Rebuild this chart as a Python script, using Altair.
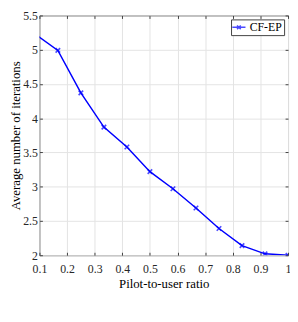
import altair as alt
import pandas as pd

ratio = [1/12, 2/12, 3/12, 4/12, 5/12, 6/12, 7/12, 8/12, 9/12, 10/12, 11/12, 12/12]
iters = [5.23, 4.99, 4.37, 3.87, 3.58, 3.22, 2.97, 2.69, 2.39, 2.14, 2.02, 2.00]
series = ["CF-EP"] * len(ratio)
x_ticks = [0.1, 0.2, 0.3, 0.4, 0.5, 0.6, 0.7, 0.8, 0.9, 1.0]
y_ticks = [2, 2.5, 3, 3.5, 4, 4.5, 5, 5.5]

df = pd.DataFrame({"ratio": ratio, "iters": iters, "series": series})

FONT = "Liberation Serif"
AX = "#404040"
cross = "M-0.5,-0.5L0.5,0.5M0.5,-0.5L-0.5,0.5"
legend_sym = "M-1.6,0L1.6,0M-0.45,-0.45L0.45,0.45M0.45,-0.45L-0.45,0.45"

xs = alt.Scale(domain=[0.1, 1.0], nice=False, zero=False)
ys = alt.Scale(domain=[2, 5.5], nice=False, zero=False)

color = alt.Color(
    "series:N",
    scale=alt.Scale(domain=["CF-EP"], range=["#0000ff"]),
    legend=alt.Legend(
        title=None, orient="top-right", offset=4,
        fillColor="white", strokeColor=AX, padding=2, cornerRadius=0,
        symbolType=legend_sym, symbolSize=70, symbolStrokeWidth=1.5,
        symbolFillColor="transparent",
        labelFont=FONT, labelFontSize=12, labelColor="#000000", labelOffset=5,
    ),
)

line = alt.Chart(df).mark_line(clip=True, strokeWidth=1.5).encode(
    x=alt.X("ratio:Q", scale=xs,
            axis=alt.Axis(values=x_ticks, format=".1~f", title="Pilot-to-user ratio",
                          grid=True, gridColor="#e3e3e3", domain=False, labelFlush=False,
                          offset=-3, tickSize=3, tickColor=AX, labelPadding=9,
                          labelFont=FONT, labelFontSize=12, labelColor="#262626",
                          titleFont=FONT, titleFontSize=13, titleFontWeight="normal",
                          titleColor="#000000", titlePadding=3)),
    y=alt.Y("iters:Q", scale=ys,
            axis=alt.Axis(values=y_ticks, format="~g", title="Average number of iterations",
                          grid=True, gridColor="#e3e3e3", domain=False, labelFlush=False,
                          offset=-3, tickSize=3, tickColor=AX, labelPadding=2,
                          labelFont=FONT, labelFontSize=12, labelColor="#262626",
                          titleFont=FONT, titleFontSize=13, titleFontWeight="normal",
                          titleColor="#000000", titlePadding=0)),
    color=color,
)

pts = alt.Chart(df).mark_point(clip=True, shape=cross, size=85, filled=False,
                               strokeWidth=1.6).encode(
    x=alt.X("ratio:Q", scale=xs,
            axis=alt.Axis(orient="top", values=x_ticks, labels=False, title=None,
                          grid=False, domain=False, offset=-3, tickSize=3, tickColor=AX)),
    y=alt.Y("iters:Q", scale=ys,
            axis=alt.Axis(orient="right", values=y_ticks, labels=False, title=None,
                          grid=False, domain=False, offset=-3, tickSize=3, tickColor=AX)),
    color=color,
)

chart = alt.layer(line, pts).resolve_axis(x="independent", y="independent").properties(
    width=253, height=244,
    autosize=alt.AutoSizeParams(type="none"),
    padding={"left": 32, "top": 5, "right": 2, "bottom": 45},
).configure_view(stroke=AX, strokeWidth=1).configure_axis(
    labelFont=FONT, titleFont=FONT
).configure_legend(labelFont=FONT)

chart.save("out.html", embed_options={"renderer": "svg", "actions": False})
